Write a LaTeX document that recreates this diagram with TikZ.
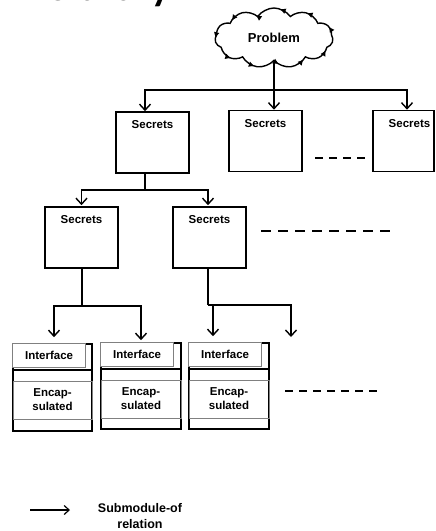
\documentclass[tikz,border=0pt]{standalone}
\usepackage{fontspec}
\setsansfont{Liberation Sans}
\newfontfamily\ttlfont{Carlito}
\usetikzlibrary{shapes.symbols,arrows.meta,decorations.markings,positioning}

\begin{document}
\begin{tikzpicture}[x=1pt,y=-1pt,
  every node/.style={font=\sffamily\bfseries\fontsize{11.5}{13}\selectfont},
  secbox/.style={draw,line width=1.6pt,minimum width=73pt,minimum height=61pt,inner sep=0pt},
  modbox/.style={draw,line width=1.6pt,minimum width=79pt,minimum height=87pt,inner sep=0pt},
  ifbox/.style={draw=gray,line width=0.8pt,fill=white,minimum width=73pt,minimum height=24pt,inner sep=0pt},
  encbox/.style={draw=gray,line width=0.8pt,minimum width=79pt,minimum height=38pt,inner sep=0pt,align=center,font=\sffamily\bfseries\fontsize{11.5}{14}\selectfont},
  arr/.style={line width=1.6pt,-{Straight Barb[length=6pt,width=11pt,line width=1.4pt]}},
  link/.style={line width=1.6pt},
  gapline/.style={line width=1.6pt,dash pattern=on 8pt off 6pt}]
\useasboundingbox (0,0) rectangle (436,531);
\clip (0,0) rectangle (436,531);
% title, mostly cut off at the top
\node[anchor=base east,inner sep=0pt,font=\ttlfont\bfseries\fontsize{40}{40}\selectfont] (ttl) at (171,0) {Hierarchy};
% the problem cloud
\node[cloud,cloud puffs=11,cloud puff arc=110,aspect=2,draw,line width=1.4pt,
  minimum width=118pt,minimum height=60pt,inner sep=0pt,
  font=\sffamily\bfseries\fontsize{13}{15}\selectfont,
  postaction={decorate,decoration={markings,
    mark=between positions 0.04 and 1 step 0.09 with {\arrow{Triangle[length=5pt,width=5pt]}}}}]
  (prob) at (274,38) {Problem};
% first level
\node[secbox] (s1) at (152.5,142.5) {};
\node[below=6pt of s1.north] {Secrets};
\node[secbox] (s2) at (265.5,141) {};
\node[below=6pt of s2.north] {Secrets};
\node[secbox,minimum width=61pt] (s3) at (403.5,141) {};
\node[below=6pt of s3.north,xshift=6pt] {Secrets};
% second level
\node[secbox] (s4) at (81.5,237.5) {};
\node[below=6pt of s4.north] {Secrets};
\node[secbox] (s5) at (209.5,237.5) {};
\node[below=6pt of s5.north] {Secrets};
% modules
\node[modbox] (ma) at (52.5,387.5) {};
\node[ifbox,anchor=north west] (ia) at (ma.north west) {Interface};
\draw[link] ([yshift=-27pt]ma.north west) -- ([yshift=-27pt]ma.north east);
\node[encbox] (ea) at ([yshift=-12.5pt]ma.center) {Encap-\\sulated};
\node[modbox,minimum width=80pt,minimum height=86pt] (mb) at (141,386) {};
\node[ifbox,anchor=north west] (ib) at (mb.north west) {Interface};
\draw[link] ([yshift=-27pt]mb.north west) -- ([yshift=-27pt]mb.north east);
\node[encbox,minimum width=80pt] (eb) at ([yshift=-13pt]mb.center) {Encap-\\sulated};
\node[modbox,minimum width=80pt,minimum height=86pt] (mc) at (229,386) {};
\node[ifbox,anchor=north west] (ic) at (mc.north west) {Interface};
\draw[link] ([yshift=-27pt]mc.north west) -- ([yshift=-27pt]mc.north east);
\node[encbox,minimum width=80pt] (ec) at ([yshift=-13pt]mc.center) {Encap-\\sulated};
% connectors
\coordinate (j0) at (274,90);
\draw[link] (prob.south) -- (j0);
\draw[arr] (j0) -| ([xshift=-7.5pt]s1.north);
\draw[arr] (j0) -| ([xshift=8.5pt]s2.north);
\draw[arr] (j0) -| ([xshift=3.5pt]s3.north);
\coordinate (j1) at (145,190);
\draw[link] ([xshift=-7.5pt]s1.south) -- (j1);
\draw[arr,shorten >=1pt] (j1) -| (s4.north);
\draw[arr,shorten >=1pt] (j1) -| ([xshift=-1.5pt]s5.north);
\coordinate (j4) at (82,306);
\draw[link] ([xshift=0.5pt]s4.south) -- (j4);
\draw[arr,shorten >=6pt] (j4) -| ([xshift=1.5pt]ma.north);
\draw[arr,shorten >=2pt] (j4) -| (mb.north);
\coordinate (j5) at (208,305);
\draw[link] ([xshift=-1.5pt]s5.south) -- (j5);
\draw[arr,shorten >=6pt] (j5) -| ([xshift=-16pt]mc.north);
\coordinate (e5) at (291,337);
\draw[arr] (j5) -| (e5);
% more of the same
\draw[gapline] (315,158) -- (365,158);
\draw[gapline,dash pattern=on 10pt off 7pt] (261,231) -- (395,231);
\draw[gapline] (285,391) -- (377,391);
% legend
\coordinate (l0) at (30,510);
\coordinate (l1) at (70,510);
\draw[line width=1.3pt,-{Straight Barb[length=5pt,width=9pt,line width=1.2pt]}] (l0) -- (l1);
\node[align=center,font=\sffamily\bfseries\fontsize{12.5}{16}\selectfont] (leg) at (140,516) {Submodule-of\\relation};
\end{tikzpicture}
\end{document}
